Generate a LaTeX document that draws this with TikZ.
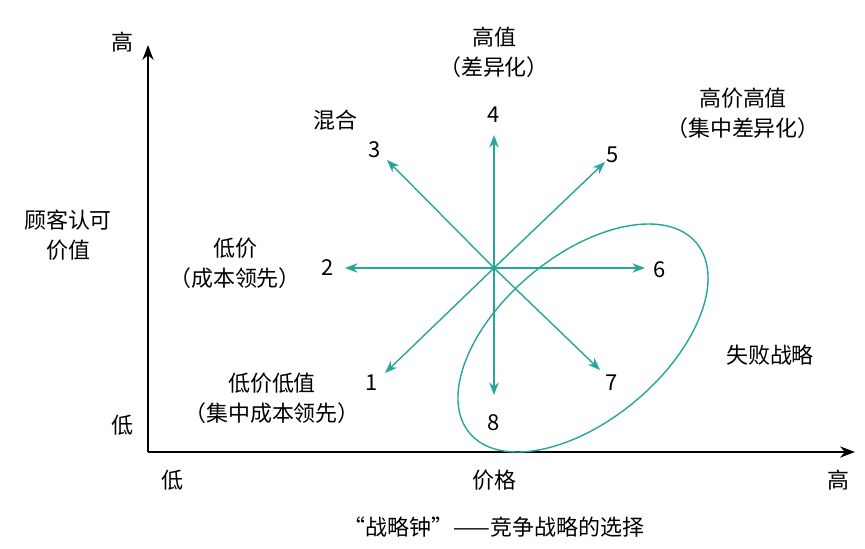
\documentclass[tikz,border=0pt]{standalone}
\usepackage{fontspec}
\setmainfont{Noto Sans CJK SC}
\usetikzlibrary{arrows.meta}
\definecolor{teal1}{RGB}{38,166,154}
\begin{document}
\begin{tikzpicture}[x=0.02cm, y=-0.02cm, font=\fontsize{12.5}{15}\selectfont,
  axis/.style = {thick, -{Stealth[length=3mm]}},
  ray/.style = {teal1, thick, -{Stealth[length=2.5mm]}},
  lbl/.style = {inner sep=1pt}]

\useasboundingbox (0, 0) rectangle (865, 548);

% axes
\coordinate (o) at (148, 452);
\coordinate (ytop) at (148, 45);
\coordinate (xend) at (855, 452);
\draw[axis] (o) -- (ytop);
\draw[axis] (o) -- (xend);

% centre and ray ends
\coordinate (c) at (494, 268);
\node[lbl] (n1) at (372, 383) {1};
\node[lbl] (n2) at (328, 268) {2};
\node[lbl] (n3) at (375, 150) {3};
\node[lbl] (n4) at (494, 115) {4};
\node[lbl] (n5) at (613, 155) {5};
\node[lbl] (n6) at (660, 270) {6};
\node[lbl] (n7) at (612, 383) {7};
\node[lbl] (n8) at (494, 423) {8};

\foreach \n/\px/\py in {1/385/373, 2/345/268, 3/387/160, 4/494/135,
                        5/605/162, 6/645/268, 7/600/370, 8/494/395}
  \draw[ray] (c) -- (\px, \py);

% failure region
\draw[teal1, thick, rotate around={40:(583,338)}] (583, 338) ellipse (148 and 82);

% texts
\node (yhi) at (122, 42) {高};
\node (ylo) at (122, 425) {低};
\node (ylab) at (68, 238) {\begin{tabular}{c}顾客认可\\[2pt]价值\end{tabular}};
\node (xlo) at (172, 480) {低};
\node (xlab) at (494, 480) {价格};
\node (xhi) at (838, 480) {高};
\node (cap) at (494, 527) {“战略钟”——竞争战略的选择};

\node (t4) at (494, 55) {\begin{tabular}{c}高值\\[2pt]（差异化）\end{tabular}};
\node (t3) at (335, 120) {混合};
\node (t5) at (743, 116) {\begin{tabular}{c}高价高值\\[2pt]（集中差异化）\end{tabular}};
\node (t2) at (235, 266) {\begin{tabular}{c}低价\\[2pt]（成本领先）\end{tabular}};
\node (t1) at (272, 401) {\begin{tabular}{c}低价低值\\[2pt]（集中成本领先）\end{tabular}};
\node (tf) at (770, 355) {失败战略};

\end{tikzpicture}
\end{document}
